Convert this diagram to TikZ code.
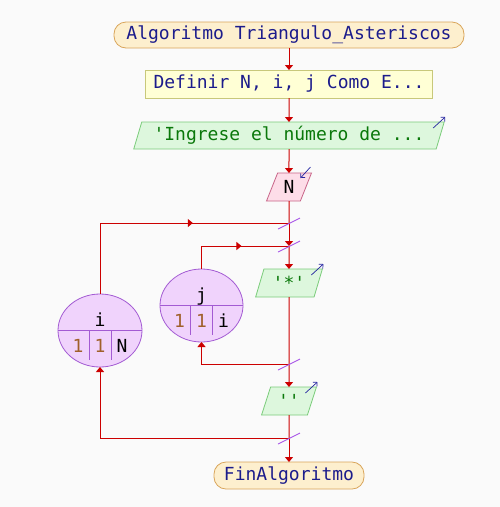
\documentclass[tikz,border=0pt]{standalone}
\usepackage{fontspec}
\newfontfamily\flowfont{DejaVu Sans Mono}
\usepackage{tikz}
\usetikzlibrary{shapes.geometric, arrows.meta, positioning, decorations.markings}
\definecolor{bgcol}{HTML}{FAFAFA}
\definecolor{flow}{HTML}{CC0000}
\definecolor{termfill}{HTML}{FDEFCE}
\definecolor{termdraw}{HTML}{D9A55A}
\definecolor{deffill}{HTML}{FFFFD5}
\definecolor{defdraw}{HTML}{C8C87A}
\definecolor{outfill}{HTML}{DDF7DD}
\definecolor{outdraw}{HTML}{7ACC7A}
\definecolor{infill}{HTML}{FDDDE8}
\definecolor{indraw}{HTML}{C86488}
\definecolor{loopfill}{HTML}{F0D3FC}
\definecolor{loopdraw}{HTML}{A35BD3}
\definecolor{slash}{HTML}{A855E8}
\definecolor{kwtext}{HTML}{1C1C8C}
\definecolor{strtext}{HTML}{0A780A}
\definecolor{numtext}{HTML}{A0602A}
\definecolor{ioarrow}{HTML}{2424A0}

\begin{document}
\begin{tikzpicture}[x=1pt, y=-1pt, font=\flowfont\fontsize{18}{20}\selectfont,
  midarr/.style={postaction={decorate, decoration={markings,
      mark=at position #1 with {\arrow{Triangle[width=8pt,length=5pt]}}}}}]
  \tikzstyle{term}=[rectangle, rounded corners=12pt, minimum height=26pt,
                    inner sep=0pt, outer sep=0pt, draw=termdraw, fill=termfill,
                    line width=0.8pt, text=kwtext]
  \tikzstyle{defbox}=[rectangle, minimum height=28pt, inner sep=0pt, outer sep=0pt,
                    draw=defdraw, fill=deffill, line width=0.8pt, text=kwtext]
  \tikzstyle{outbox}=[trapezium, trapezium left angle=68, trapezium right angle=112,
                    trapezium stretches=true, minimum height=28pt, inner sep=0pt,
                    outer sep=0pt, draw=outdraw, fill=outfill, line width=0.8pt,
                    text=strtext]
  \tikzstyle{inbox}=[outbox, draw=indraw, fill=infill, text=black]
  \tikzstyle{loopell}=[ellipse, draw=loopdraw, fill=loopfill, line width=0.8pt,
                    inner sep=0pt, outer sep=0pt]
  \tikzstyle{divline}=[loopdraw, line width=0.8pt]
  \tikzstyle{lnk}=[flow, line width=1pt]
  \tikzstyle{arr}=[lnk, -{Triangle[width=8pt,length=5pt]}]
  \tikzstyle{ioarr}=[ioarrow, line width=0.7pt, -{Straight Barb[length=3pt,width=6pt]}]
  \tikzstyle{cut}=[slash, line width=0.9pt]

  \useasboundingbox[fill=bgcol] (0,0) rectangle (500,507);

  % main column
  \node[term, minimum width=350pt] (alg) at (289,35) {Algoritmo Triangulo\_Asteriscos};
  \node[defbox, minimum width=287pt, below=22pt of alg] (def) {Definir N, i, j Como E...};
  \node[outbox, minimum width=311pt, minimum height=27pt, below=24pt of def] (ing) {'Ingrese el número de ...};
  \node[inbox, minimum width=45pt, below=24pt of ing] (rdn) {N};
  \node[outbox, minimum width=67pt, below=68pt of rdn] (ast) {'*'};
  \node[outbox, minimum width=55pt, below=90pt of ast] (blk) {''};
  \node[term, minimum width=150pt, minimum height=27pt, below=47pt of blk] (fin) {FinAlgoritmo};

  % loop joints
  \coordinate (oi) at (289,223);
  \coordinate (ii) at (289,246);
  \coordinate (ie) at (289,364);
  \coordinate (oe) at (289,438);

  % loop headers
  \node[loopell, minimum width=84pt, minimum height=73pt] (li) at (100,330.5) {};
  \node[loopell, minimum width=83pt, minimum height=73pt] (lj) at (201.5,305.5) {};
  \foreach \e/\v/\u in {li/i/N, lj/j/i}{
    \draw[divline] (\e.west) -- (\e.east);
    \draw[divline] ([xshift=-11pt]\e.center) -- ++(0,29);
    \draw[divline] ([xshift=11pt]\e.center) -- ++(0,29);
    \node[anchor=base] (\e var) at ([yshift=4pt]\e.center) {\v};
    \node[anchor=base, text=numtext] (\e ini) at ([shift={(-22pt,-22pt)}]\e.center) {1};
    \node[anchor=base, text=numtext] (\e stp) at ([yshift=-22pt]\e.center) {1};
    \node[anchor=base] (\e end) at ([shift={(22pt,-22pt)}]\e.center) {\u};
  }

  % connectors
  \draw[arr] (alg) -- (def);
  \draw[arr] (def) -- (ing);
  \draw[arr] (ing) -- (rdn);
  \draw[lnk] (rdn) -- (oi);
  \draw[arr] (oi) -- (ii);
  \draw[arr] (ii) -- (ast);
  \draw[lnk] (ast) -- (ie);
  \draw[arr] (ie) -- (blk);
  \draw[lnk] (blk) -- (oe);
  \draw[arr] (oe) -- (fin);
  \draw[lnk, midarr=0.63] (li.north) |- (oi);
  \draw[lnk, midarr=0.57] (lj.north) |- (ii);
  \draw[arr] (ie) -| (lj.south);
  \draw[arr] (oe) -| (li.south);

  % slashes on joints
  \foreach \c in {oi, ii, ie, oe}
    \draw[cut] ([shift={(-11,6)}]\c) -- ([shift={(11,-5)}]\c);

  % in/out marks
  \foreach \n in {ing, ast, blk}
    \draw[ioarr] ([shift={(-11,6)}]\n.top right corner) -- ([shift={(1,-5)}]\n.top right corner);
  \draw[ioarr] ([shift={(-1,-6)}]rdn.top right corner) -- ([shift={(-11,5)}]rdn.top right corner);
\end{tikzpicture}
\end{document}
